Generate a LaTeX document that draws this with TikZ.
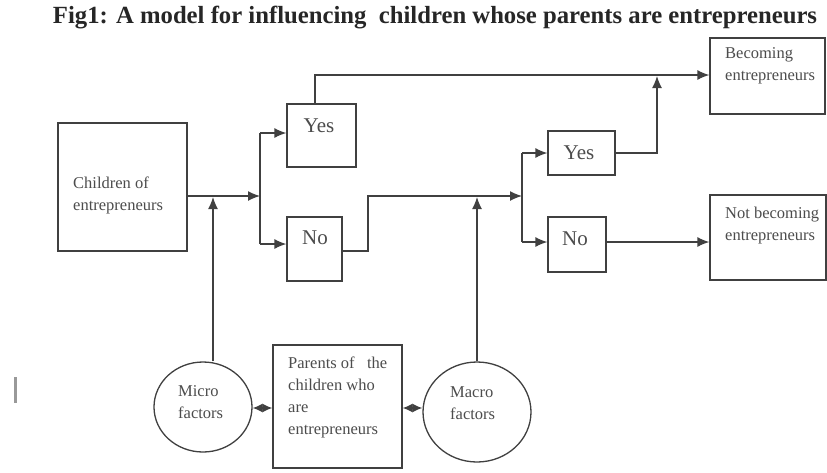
\documentclass[tikz,border=0pt]{standalone}
\usepackage{fontspec}
\setmainfont{Liberation Serif}
\usetikzlibrary{arrows.meta,shapes.geometric}
\definecolor{linec}{gray}{0.25}
\definecolor{textc}{gray}{0.3}
\begin{document}
\begin{tikzpicture}[x=1pt,y=-1pt,
  boxs/.style={draw=linec,line width=1.3pt,rectangle,inner sep=0pt},
  circs/.style={draw=linec,line width=1.3pt,ellipse,inner sep=0pt},
  conn/.style={draw=linec,line width=1.3pt},
  arr/.style={conn,-{Latex[length=12pt,width=10pt]}},
  darr/.style={conn,{Latex[length=10pt,width=9pt]}-{Latex[length=10pt,width=9pt]}},
  lbl/.style={text=textc,font=\fontsize{16.5}{22}\selectfont,align=left,inner sep=0pt,anchor=west},
  yn/.style={text=textc,font=\fontsize{21}{24}\selectfont,inner sep=0pt}
]
\useasboundingbox[fill=white] (0,0) rectangle (827,472);

% title
\node[font=\fontsize{24.7}{28}\selectfont\bfseries,inner sep=0pt,text=black!85] (title) at (435,18) {Fig1: A model for influencing\ \ children whose parents are entrepreneurs};

% boxes
\node[boxs,minimum width=129pt,minimum height=128pt] (child) at (122.5,187) {};
\node[boxs,minimum width=69pt,minimum height=63pt] (yes1) at (321.5,135.5) {};
\node[boxs,minimum width=55pt,minimum height=64pt] (no1) at (314.5,249) {};
\node[boxs,minimum width=67pt,minimum height=44pt] (yes2) at (581.5,153) {};
\node[boxs,minimum width=58pt,minimum height=55pt] (no2) at (577,244.5) {};
\node[boxs,minimum width=115pt,minimum height=76pt] (become) at (767.5,76) {};
\node[boxs,minimum width=116pt,minimum height=85pt] (notbecome) at (768,237.5) {};
\node[boxs,minimum width=129pt,minimum height=123pt] (parents) at (337.5,406.5) {};
\node[circs,minimum width=98pt,minimum height=90pt] (micro) at (203,407) {};
\node[circs,minimum width=108pt,minimum height=100pt] (macro) at (477,412) {};

% texts
\node[lbl] (childtext) at (73,195) {Children of\\entrepreneurs};
\node[lbl] (becometext) at (725,66) {Becoming\\entrepreneurs};
\node[lbl] (notbecometext) at (725,226) {Not becoming\\entrepreneurs};
\node[lbl] (parentstext) at (288,397) {Parents of\ \ \ the\\children who\\are\\entrepreneurs};
\node[lbl] (microtext) at (178,402) {Micro\\factors};
\node[lbl] (macrotext) at (450,403) {Macro\\factors};
\node[yn] (yes1text) at (319,126) {Yes};
\node[yn] (no1text) at (315,238) {No};
\node[yn] (yes2text) at (579,153) {Yes};
\node[yn] (no2text) at (575,239) {No};

% junction coordinates
\coordinate (j1) at (260,196);
\coordinate (j1a) at (260,133);
\coordinate (j1b) at (260,244);
\coordinate (m1) at (213,197);
\coordinate (c1) at (315,75);
\coordinate (n1) at (368,251);
\coordinate (n2) at (368,196);
\coordinate (j2) at (522,196);
\coordinate (j2a) at (522,153);
\coordinate (j2b) at (522,242);
\coordinate (ma1) at (477,197);
\coordinate (y2a) at (657,153);
\coordinate (y2b) at (657,76);

% connectors
\draw[arr] (child.east |- j1) -- (j1);
\draw[conn] (j1a) -- (j1b);
\draw[arr] (j1a) -- (yes1.west |- j1a);
\draw[arr] (j1b) -- (no1.west |- j1b);
\draw[arr] (micro.north -| m1) -- (m1);
\draw[arr] (yes1.north -| c1) -- (c1) -- (become.west |- c1);
\draw[arr] (no1.east |- n1) -- (n1) -- (n2) -- (j2);
\draw[conn] (j2a) -- (j2b);
\draw[arr] (j2a) -- (yes2.west |- j2a);
\draw[arr] (j2b) -- (no2.west |- j2b);
\draw[arr] (macro.north -| ma1) -- (ma1);
\draw[arr] (yes2.east |- y2a) -- (y2a) -- (y2b);
\draw[arr] (no2.east |- j2b) -- (notbecome.west |- j2b);
\draw[darr] (micro.east |- 0,408) -- (parents.west |- 0,408);
\draw[darr] (parents.east |- 0,408) -- (macro.west |- 0,408);

% stray mark
\draw[draw=gray!80,line width=3pt] (15,377) -- (15,403);
\end{tikzpicture}
\end{document}
